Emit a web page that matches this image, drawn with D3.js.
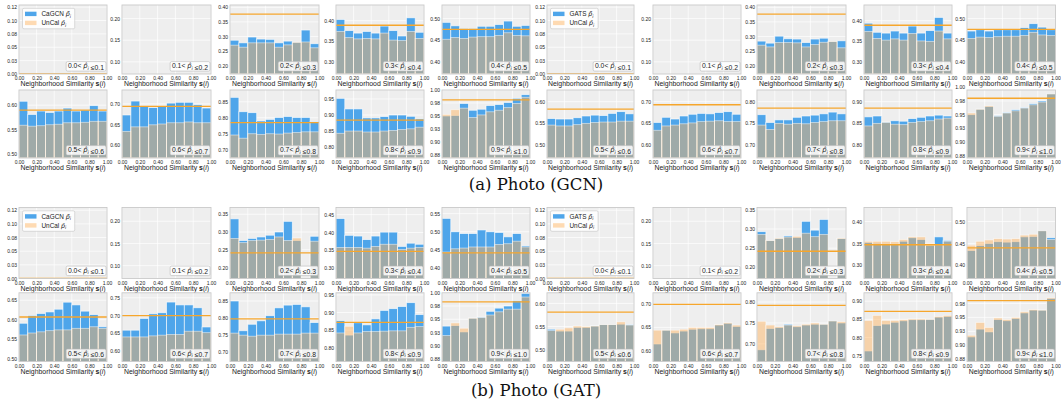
<!DOCTYPE html>
<html>
<head>
<meta charset="utf-8">
<script src="https://cdn.jsdelivr.net/npm/d3@7/dist/d3.min.js"></script>
<style>
  html, body { margin: 0; padding: 0; background: #ffffff; }
  svg { display: block; }
</style>
</head>
<body>
<svg id="chart" width="1061" height="407"></svg>
<script>
// ---------- shared bins ----------
const simEdges = [0, 0.1, 0.2, 0.3, 0.4, 0.5, 0.6, 0.7, 0.8, 0.9, 1.0];   // neighborhood-similarity bins
const confLow  = [0.0, 0.1, 0.2, 0.3, 0.4, 0.5, 0.6, 0.7, 0.8, 0.9];       // confidence bins (lower edge)
const xTickVals = [0, 0.2, 0.4, 0.6, 0.8, 1.0];
const tickLabelOverrides = new Map([[0.025, "0.03"], [0.075, "0.08"], [0.125, "0.12"],
                                    [0.875, "0.88"], [0.925, "0.93"], [0.975, "0.98"]]);

const ticksBin0 = [0, 0.025, 0.05, 0.075, 0.1, 0.125];
const ticksBin1 = [0.10, 0.15, 0.20];
const ticksBin9 = [0.875, 0.9, 0.925, 0.95, 0.975, 1.0];

// ---------- Photo (GCN) : CaGCN ----------
const gcnCaGcnCal = [
  null, null,
  [.287, .278, .298, .291, .290, .278, .284, .280, .322, .275],
  [.403, .376, .370, .374, .370, .387, .376, .363, .407, .372],
  [.491, .483, .477, .477, .482, .482, .486, .494, .482, .484],
  [.608, .581, .588, .585, .588, .594, .588, .590, .599, .588],
  [.673, .707, .694, .691, .695, .702, .704, .704, .698, .690],
  [.864, .819, .816, .790, .795, .801, .804, .801, .801, .788],
  [.952, .919, .919, .891, .891, .895, .900, .900, .896, .888],
  [.950, .951, .974, .961, .963, .970, .972, .976, .984, .991]
];
const gcnCaGcnUncal = [
  null, null,
  [.270, .263, .278, .278, .278, .263, .271, .280, .281, .261],
  [.374, .359, .356, .357, .356, .370, .353, .352, .374, .357],
  [.452, .456, .454, .457, .458, .458, .461, .467, .461, .460],
  [.559, .557, .558, .560, .561, .564, .564, .565, .567, .567],
  [.633, .644, .644, .649, .651, .654, .654, .656, .654, .654],
  [.746, .736, .750, .748, .750, .749, .752, .754, .756, .756],
  [.843, .850, .850, .847, .847, .850, .852, .855, .857, .862],
  [.953, .962, .965, .947, .952, .958, .961, .966, .974, .986]
];
const gcnCaGcnAcc = [0, null, .377, .389, .475, .590, .694, .785, .884, .981];
const gcnCaGcnYRange = [[0, .129], [.072, .231], [.171, .408], [.271, .438], [.372, .531],
                        [.492, .631], [.568, .734], [.674, .887], [.766, .978], [.869, 1.0]];
const gcnCaGcnYTicks = [ticksBin0, ticksBin1, [.20, .25, .30, .35, .40], [.30, .35, .40], [.40, .45, .50],
                        [.50, .55, .60], [.60, .65, .70], [.70, .75, .80, .85], [.80, .85, .90, .95], ticksBin9];

// ---------- Photo (GCN) : GATS ----------
const gcnGatsCal = [
  null, null,
  [.284, .277, .301, .292, .291, .279, .291, .294, .283, .285],
  [.394, .372, .370, .375, .370, .387, .370, .376, .408, .370],
  [.471, .474, .471, .474, .474, .474, .479, .488, .480, .474],
  [.561, .560, .560, .563, .567, .569, .568, .573, .577, .572],
  [.652, .664, .660, .667, .671, .673, .672, .675, .677, .671],
  [.770, .752, .758, .758, .764, .767, .769, .772, .776, .772],
  [.865, .867, .853, .856, .855, .861, .864, .867, .869, .867],
  [.950, .960, .965, .948, .954, .959, .963, .970, .975, .988]
];
const gcnGatsUncal = [
  null, null,
  [.270, .264, .279, .279, .278, .264, .272, .280, .283, .261],
  [.374, .357, .353, .356, .353, .369, .351, .350, .375, .356],
  [.454, .457, .456, .458, .459, .459, .461, .468, .462, .461],
  [.546, .544, .544, .547, .550, .552, .553, .553, .555, .555],
  [.634, .644, .646, .649, .651, .654, .655, .656, .654, .654],
  [.746, .736, .750, .748, .750, .749, .752, .754, .756, .756],
  [.844, .850, .852, .848, .847, .852, .854, .856, .860, .862],
  [.953, .960, .966, .947, .953, .957, .962, .968, .973, .988]
];
const gcnGatsAcc = [0, null, .377, .389, .475, .583, .693, .785, .885, .980];
const gcnGatsYRange = [[0, .129], [.072, .231], [.171, .408], [.271, .438], [.372, .531],
                       [.470, .627], [.570, .727], [.670, .827], [.770, .927], [.871, .995]];
const gcnGatsYTicks = [ticksBin0, ticksBin1, [.20, .25, .30, .35, .40], [.30, .35, .40], [.40, .45, .50],
                       [.50, .55, .60], [.60, .65, .70], [.70, .75, .80], [.80, .85, .90], ticksBin9];

// ---------- Photo (GAT) : CaGCN ----------
const gatCaGcnCal = [
  null, null,
  [.337, .276, .282, .286, .291, .300, .330, .276, null, .288],
  [.439, .392, .390, .380, .390, .401, .401, .361, .370, .367],
  [.537, .500, .495, .495, .505, .500, .498, .486, .495, .461],
  [.591, .611, .616, .620, .627, .645, .638, .622, .613, .582],
  [.659, .659, .692, .705, .708, .738, .730, .730, .722, .668],
  [.850, .763, .782, .792, .807, .830, .838, .840, .833, .787],
  [.877, .836, .871, .865, .882, .906, .911, .917, .928, .894],
  [.937, .938, .926, .952, .954, .965, .971, .975, .985, .999]
];
const gatCaGcnUncal = [
  null, null,
  [.282, .270, .276, .277, .279, .286, .276, .283, null, .274],
  [.358, .358, .358, .356, .361, .367, .367, .352, .356, .358],
  [.444, .453, .455, .458, .458, .458, .465, .467, .474, .458],
  [.561, .566, .569, .572, .574, .574, .578, .578, .582, .578],
  [.640, .640, .640, .643, .645, .647, .647, .656, .656, .652],
  [.756, .750, .747, .750, .750, .753, .753, .753, .756, .756],
  [.842, .861, .842, .846, .846, .847, .848, .848, .858, .860],
  [.919, .943, .933, .952, .953, .958, .964, .969, .969, .992]
];
const gatCaGcnAcc = [0, null, .241, .347, .442, .607, .700, .798, .872, .983];
const gatCaGcnYRange = [[0, .130], [.071, .231], [.169, .369], [.271, .470], [.371, .567],
                        [.493, .669], [.571, .764], [.673, .874], [.761, .956], [.870, 1.0]];
const gatCaGcnYTicks = [ticksBin0, ticksBin1, [.20, .25, .30, .35], [.30, .35, .40, .45], [.40, .45, .50, .55],
                        [.50, .55, .60, .65], [.60, .65, .70, .75], [.70, .75, .80, .85], [.80, .85, .90, .95], ticksBin9];

// ---------- Photo (GAT) : GATS ----------
const gatGatsCal = [
  null, null,
  [.293, .270, .275, .282, .278, .320, .297, .325, null, .275],
  [.352, .350, .349, .349, .355, .363, .359, .345, .365, .357],
  [.434, .445, .450, .454, .453, .454, .465, .466, .479, .463],
  [.544, .540, .540, .548, .548, .551, .554, .554, .555, .554],
  [.614, .644, .638, .642, .646, .647, .647, .655, .659, .652],
  [.686, .737, .739, .747, .741, .745, .747, .747, .755, .750],
  [.763, .833, .837, .842, .846, .849, .849, .850, .856, .858],
  [.915, .929, .924, .946, .944, .948, .958, .963, .963, .984]
];
const gatGatsUncal = [
  null, null,
  [.286, .270, .276, .279, .281, .289, .280, .286, null, .276],
  [.355, .355, .355, .354, .359, .365, .365, .350, .347, .355],
  [.446, .455, .458, .461, .460, .461, .469, .471, .479, .459],
  [.541, .544, .547, .551, .550, .551, .554, .554, .560, .553],
  [.644, .644, .644, .646, .650, .650, .650, .656, .660, .655],
  [.754, .745, .741, .745, .743, .747, .750, .747, .755, .753],
  [.847, .861, .847, .847, .849, .851, .851, .850, .858, .861],
  [.918, .941, .932, .949, .946, .950, .960, .964, .963, .985]
];
const gatGatsAcc = [0, null, .242, .347, .440, .581, .700, .792, .872, .980];
const gatGatsYRange = [[0, .130], [.071, .231], [.171, .356], [.270, .432], [.370, .532],
                       [.474, .623], [.576, .725], [.658, .822], [.734, .923], [.871, .994]];
const gatGatsYTicks = [ticksBin0, ticksBin1, [.20, .25, .30, .35], [.30, .35, .40], [.40, .45, .50],
                       [.50, .55, .60], [.60, .65, .70], [.70, .75, .80], [.75, .80, .85, .90], [.875, .9, .925, .95, .975]];

// ---------- layout & style ----------
const colLeft  = [19, 122, 230, 336, 442, 547, 653, 757, 864, 967];
const colRight = [107, 211, 319, 424, 530, 634, 741, 846, 952, 1055.5];

const STYLE = {
  bg: "#eeeeee", grid: "#ffffff", frame: "#c9c9c9",
  cal: "#4ea5ea", uncal: "#ffb05a", uncalOpacity: 0.46,
  acc: "#f6a62c", text: "#222222",
  sans: "'Liberation Sans', 'DejaVu Sans', sans-serif",
  math: "'DejaVu Sans', sans-serif",
  serif: "'DejaVu Serif', 'Liberation Serif', serif"
};

const figures = [
  { caption: "(a) Photo (GCN)", captionY: 190, rows: [[5, 74], [90, 158]],
    halves: [
      { method: "CaGCN", cal: gcnCaGcnCal, uncal: gcnCaGcnUncal, acc: gcnCaGcnAcc, range: gcnCaGcnYRange, ticks: gcnCaGcnYTicks },
      { method: "GATS",  cal: gcnGatsCal,  uncal: gcnGatsUncal,  acc: gcnGatsAcc,  range: gcnGatsYRange,  ticks: gcnGatsYTicks }
    ] },
  { caption: "(b) Photo (GAT)", captionY: 396, rows: [[207.5, 278.5], [292.8, 361.5]],
    halves: [
      { method: "CaGCN", cal: gatCaGcnCal, uncal: gatCaGcnUncal, acc: gatCaGcnAcc, range: gatCaGcnYRange, ticks: gatCaGcnYTicks },
      { method: "GATS",  cal: gatGatsCal,  uncal: gatGatsUncal,  acc: gatGatsAcc,  range: gatGatsYRange,  ticks: gatGatsYTicks }
    ] }
];

const svg = d3.select("#chart");
const defs = svg.append("defs");
const fmt2 = d3.format(".2f");
const tickLabel = v => tickLabelOverrides.get(v) ?? fmt2(v);
let clipCount = 0;

// italic p with a hat / tilde and a subscript i
function mathP(sel, accent, size) {
  sel.append("tspan").attr("font-family", STYLE.math).attr("font-style", "italic").text("p" + accent);
  sel.append("tspan").attr("font-family", STYLE.math).attr("font-style", "italic")
    .attr("font-size", size * 0.7).attr("dy", size * 0.25).text("i");
  sel.append("tspan").attr("dy", -size * 0.25).text("");
}

function drawPanel(x0, x1, y0, y1, half, b) {
  const g = svg.append("g");
  const x = d3.scaleLinear().domain([0, 1]).range([x0, x1]);
  const y = d3.scaleLinear().domain(half.range[b]).range([y1, y0]);
  const yBase = half.range[b][0];
  const clipId = "panel-clip-" + (clipCount++);
  defs.append("clipPath").attr("id", clipId)
    .append("rect").attr("x", x0).attr("y", y0).attr("width", x1 - x0).attr("height", y1 - y0);

  g.append("rect").attr("x", x0).attr("y", y0).attr("width", x1 - x0).attr("height", y1 - y0)
    .attr("fill", STYLE.bg);

  const grid = g.append("g").attr("stroke", STYLE.grid).attr("stroke-width", 0.7);
  grid.selectAll("line.gx").data(xTickVals).join("line").attr("class", "gx")
    .attr("x1", d => x(d)).attr("x2", d => x(d)).attr("y1", y0).attr("y2", y1);
  grid.selectAll("line.gy").data(half.ticks[b]).join("line").attr("class", "gy")
    .attr("x1", x0).attr("x2", x1).attr("y1", d => y(d)).attr("y2", d => y(d));

  const plot = g.append("g").attr("clip-path", `url(#${clipId})`);
  const bins = d3.range(10).map(i => ({
    lo: simEdges[i], hi: simEdges[i + 1],
    cal: half.cal[b] ? half.cal[b][i] : null,
    unc: half.uncal[b] ? half.uncal[b][i] : null
  }));

  plot.selectAll("rect.cal").data(bins.filter(d => d.cal != null)).join("rect").attr("class", "cal")
    .attr("x", d => x(d.lo)).attr("width", d => x(d.hi) - x(d.lo))
    .attr("y", d => y(d.cal)).attr("height", d => y(yBase) - y(d.cal))
    .attr("fill", STYLE.cal).attr("stroke", "#ffffff").attr("stroke-width", 0.8).attr("stroke-opacity", 0.75);

  plot.selectAll("rect.unc").data(bins.filter(d => d.unc != null)).join("rect").attr("class", "unc")
    .attr("x", d => x(d.lo)).attr("width", d => x(d.hi) - x(d.lo))
    .attr("y", d => y(d.unc)).attr("height", d => y(yBase) - y(d.unc))
    .attr("fill", STYLE.uncal).attr("fill-opacity", STYLE.uncalOpacity)
    .attr("stroke", "#ffffff").attr("stroke-width", 0.8).attr("stroke-opacity", 0.6);

  if (half.acc[b] != null) {
    plot.append("line")
      .attr("x1", x0).attr("x2", x1).attr("y1", y(half.acc[b])).attr("y2", y(half.acc[b]))
      .attr("stroke", STYLE.acc).attr("stroke-width", 1.3);
  }

  g.append("rect").attr("x", x0).attr("y", y0).attr("width", x1 - x0).attr("height", y1 - y0)
    .attr("fill", "none").attr("stroke", STYLE.frame).attr("stroke-width", 0.9);

  // axes
  const xAxis = d3.axisBottom(x).tickValues(xTickVals).tickFormat(fmt2).tickSize(0).tickPadding(2.5);
  g.append("g").attr("transform", `translate(0,${y1})`).call(xAxis)
    .call(a => a.select(".domain").remove())
    .attr("font-family", STYLE.sans).attr("font-size", 5)
    .selectAll("text").attr("fill", STYLE.text);

  const yAxis = d3.axisLeft(y).tickValues(half.ticks[b]).tickFormat(tickLabel).tickSize(0).tickPadding(2);
  g.append("g").attr("transform", `translate(${x0},0)`).call(yAxis)
    .call(a => a.select(".domain").remove())
    .attr("font-family", STYLE.sans).attr("font-size", 5)
    .selectAll("text").attr("fill", STYLE.text);

  // x-axis title
  const xt = g.append("text").attr("x", (x0 + x1) / 2).attr("y", y1 + 12)
    .attr("text-anchor", "middle").attr("font-family", STYLE.sans).attr("font-size", 6.9).attr("fill", STYLE.text);
  xt.append("tspan").text("Neighborhood Similarity ");
  xt.append("tspan").attr("font-weight", "bold").text("s");
  xt.append("tspan").text("(");
  xt.append("tspan").attr("font-style", "italic").text("i");
  xt.append("tspan").text(")");

  // confidence-bin tag, lower right
  const tag = g.append("g");
  const tagRect = tag.append("rect");
  const fs = 6.8;
  const tt = tag.append("text").attr("x", x1 - 3).attr("y", y1 - 6)
    .attr("text-anchor", "end").attr("font-family", STYLE.sans).attr("font-size", fs).attr("fill", STYLE.text);
  tt.append("tspan").text(confLow[b].toFixed(1) + "< ");
  mathP(tt, "\u0302", fs);
  tt.append("tspan").text(" \u2264" + (confLow[b] + 0.1).toFixed(1));
  const bb = tt.node().getBBox();
  tagRect.attr("x", bb.x - 1.8).attr("y", bb.y - 0.4).attr("width", bb.width + 3.6).attr("height", bb.height + 0.8)
    .attr("rx", 1.5).attr("fill", "#ffffff").attr("fill-opacity", 0.85)
    .attr("stroke", "#b9b9b9").attr("stroke-width", 0.6);

  // legend in the first panel of each half
  if (b === 0) {
    const lg = g.append("g");
    const box = lg.append("rect");
    const lfs = 6.4;
    const items = [{ name: half.method, accent: "\u0303", color: STYLE.cal, op: 1 },
                   { name: "UnCal", accent: "\u0302", color: STYLE.uncal, op: STYLE.uncalOpacity }];
    items.forEach((it, k) => {
      const ry = y0 + 6.7 + k * 9;
      lg.append("rect").attr("x", x0 + 6).attr("y", ry).attr("width", 11.5).attr("height", 4.4)
        .attr("fill", it.color).attr("fill-opacity", it.op);
      const t = lg.append("text").attr("x", x0 + 22.5).attr("y", ry + 4.5)
        .attr("font-family", STYLE.sans).attr("font-size", lfs).attr("fill", STYLE.text);
      t.append("tspan").text(it.name + " ");
      mathP(t, it.accent, lfs);
    });
    const lb = lg.node().getBBox();
    box.attr("x", x0 + 3.5).attr("y", y0 + 3.3).attr("width", lb.x + lb.width + 3 - (x0 + 3.5)).attr("height", 20.5)
      .attr("rx", 1.5).attr("fill", "#ffffff").attr("fill-opacity", 0.85)
      .attr("stroke", "#c4c4c4").attr("stroke-width", 0.6);
  }
}

figures.forEach(fig => {
  fig.halves.forEach((half, hi) => {
    confLow.forEach((lo, b) => {
      const [y0, y1] = fig.rows[Math.floor(b / 5)];
      const col = hi * 5 + (b % 5);
      drawPanel(colLeft[col], colRight[col], y0, y1, half, b);
    });
  });
  svg.append("text").attr("x", 536).attr("y", fig.captionY).attr("text-anchor", "middle")
    .attr("font-family", STYLE.serif).attr("font-size", 16.5).attr("fill", "#111111")
    .text(fig.caption);
});
</script>
</body>
</html>
